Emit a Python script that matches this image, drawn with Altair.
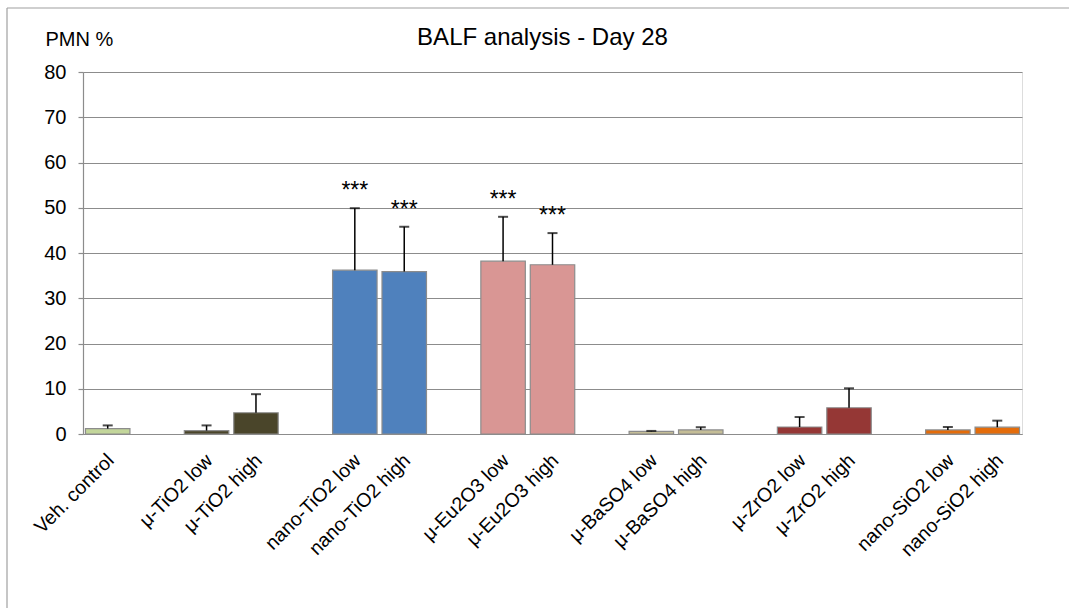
import altair as alt
import pandas as pd

# x slots (blank entries are the gaps between groups)
slots = ["Veh. control", " ", "μ-TiO2 low", "μ-TiO2 high", "  ",
         "nano-TiO2 low", "nano-TiO2 high", "   ",
         "μ-Eu2O3 low", "μ-Eu2O3 high", "    ",
         "μ-BaSO4 low", "μ-BaSO4 high", "     ",
         "μ-ZrO2 low", "μ-ZrO2 high", "      ",
         "nano-SiO2 low", "nano-SiO2 high"]

categories = ["Veh. control", "μ-TiO2 low", "μ-TiO2 high",
              "nano-TiO2 low", "nano-TiO2 high",
              "μ-Eu2O3 low", "μ-Eu2O3 high",
              "μ-BaSO4 low", "μ-BaSO4 high",
              "μ-ZrO2 low", "μ-ZrO2 high",
              "nano-SiO2 low", "nano-SiO2 high"]
values = [1.2, 0.75, 4.7, 36.2, 35.9, 38.2, 37.4, 0.6, 0.9, 1.55, 5.8, 0.9, 1.5]
errors = [0.7, 1.15, 4.1, 13.7, 9.9, 9.8, 7.0, 0.08, 0.6, 2.2, 4.3, 0.65, 1.45]
stars = ["", "", "", "***", "***", "***", "***", "", "", "", "", "", ""]
colors = ["#C3D69B", "#4A452A", "#4A452A", "#4F81BD", "#4F81BD",
          "#D99694", "#D99694", "#C4BD97", "#C4BD97", "#953735", "#953735",
          "#E46C0A", "#E46C0A"]
title_text = ["BALF analysis - Day 28"]

df = pd.DataFrame({"cat": categories, "val": values, "err": errors, "star": stars})

FONT = "Liberation Sans"
GRAY = "#8c8c8c"

base = alt.Chart(df).transform_calculate(top="datum.val + datum.err")

x_enc = alt.X(
    "cat:N",
    scale=alt.Scale(domain=slots, paddingInner=0.1, paddingOuter=0.05),
    axis=alt.Axis(
        title=None, labelAngle=-45, labelFontSize=19.5, labelFont=FONT,
        labelColor="black", ticks=False, labelPadding=23, labelOffset=3,
        domainColor=GRAY, domainWidth=1.2, labelAlign="right", labelBaseline="middle",
    ),
)
y_scale = alt.Scale(domain=[0, 80], nice=False, zero=True)
y_axis = alt.Axis(
    values=[0, 10, 20, 30, 40, 50, 60, 70, 80],
    title="PMN %", titleAngle=0, titleX=-38, titleY=-27, titleAlign="left",
    titleBaseline="alphabetic", titleFontSize=20, titleFont=FONT,
    titleFontWeight="normal", titleColor="black",
    labelFontSize=20, labelFont=FONT, labelColor="black", labelPadding=12,
    tickSize=5, tickColor=GRAY, tickWidth=1.2,
    grid=True, gridColor=GRAY, gridWidth=1.2,
    domainColor=GRAY, domainWidth=1.2,
)

bars = base.mark_bar(stroke=GRAY, strokeWidth=1.2).encode(
    x=x_enc,
    y=alt.Y("val:Q", scale=y_scale, axis=y_axis),
    color=alt.Color("cat:N", scale=alt.Scale(domain=categories, range=colors), legend=None),
)

err_line = base.mark_rule(color="black", strokeWidth=1.5).encode(
    x=alt.X("cat:N"), y=alt.Y("val:Q"), y2=alt.Y2("top:Q"),
)

caps = base.mark_tick(color="black", thickness=2, size=10).encode(
    x=alt.X("cat:N"), y=alt.Y("top:Q"),
)

star_text = base.mark_text(fontSize=23, font=FONT, color="black",
                           baseline="alphabetic", dy=-10).encode(
    x=alt.X("cat:N"), y=alt.Y("top:Q"), text="star:N",
)

title_mark = alt.Chart(pd.DataFrame({"t": title_text})).mark_text(
    fontSize=24, font=FONT, color="black", align="center", baseline="alphabetic"
).encode(x=alt.value(459.5), y=alt.value(-26.6), text="t:N")

frame = alt.Chart(alt.Data(values=[{}]))
frame_top = frame.mark_rule(color="#a0a0a0", strokeWidth=1.2).encode(
    x=alt.value(-76), x2=alt.value(1000), y=alt.value(-64))
frame_left = frame.mark_rule(color="#a0a0a0", strokeWidth=1.2).encode(
    x=alt.value(-76), y=alt.value(-64), y2=alt.value(600))

chart = alt.layer(bars, err_line, caps, star_text, title_mark, frame_top, frame_left).properties(
    width=939, height=362,
    padding={"left": 83, "top": 72, "right": 47, "bottom": 174},
    autosize=alt.AutoSizeParams(type="none"),
).configure_view(strokeWidth=0).configure(background="white")

chart.save("out.html", embed_options={"renderer": "svg", "actions": False})
